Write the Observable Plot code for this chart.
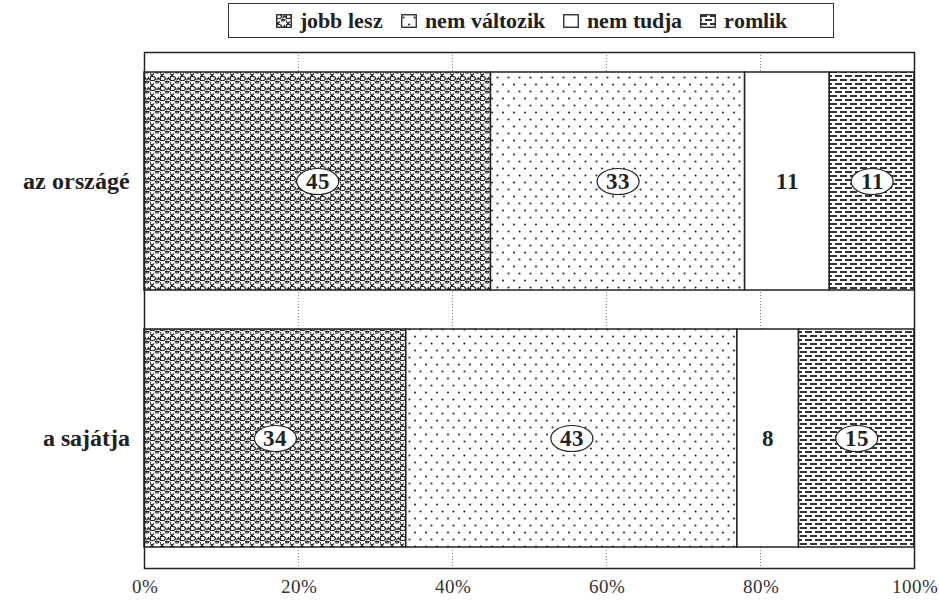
<!DOCTYPE html>
<html><head><meta charset="utf-8">
<script src="https://cdn.jsdelivr.net/npm/d3@7"></script>
<script src="https://cdn.jsdelivr.net/npm/@observablehq/plot@0.6"></script>
<style>
@font-face{font-family:"LSerif";src:local("Liberation Serif"),local("LiberationSerif");font-weight:400;}
@font-face{font-family:"LSerif";src:local("Liberation Serif Bold"),local("LiberationSerif-Bold");font-weight:700;}
</style>
</head><body style="margin:0;background:#fff;font-family:LSerif">
<svg width="0" height="0" style="position:absolute">
<defs>
<pattern id="p-jobb" width="10" height="10" patternUnits="userSpaceOnUse">
<rect width="10" height="10" fill="#fff"/>
<path d="M0.5,0.5h3.5l1.5,1.5v1l-1.5,1.5h-3.5z M6.5,4.5l2,-3l2,3 M6.5,3h4 M5.5,5.5h3.5l-1,1.5h-2z M0,7.5l2,2l2,-2 M1,9.5h2 M0.5,6v1" fill="none" stroke="#2a2a2a" stroke-width="1.2"/>
</pattern>
<pattern id="p-dots" width="11" height="14" patternUnits="userSpaceOnUse">
<rect width="11" height="14" fill="#fff"/>
<circle cx="2.5" cy="3.5" r="1.1" fill="#333"/>
<circle cx="8" cy="10.5" r="1.1" fill="#333"/>
</pattern>
<pattern id="p-brick" width="10" height="8" patternUnits="userSpaceOnUse">
<rect width="10" height="8" fill="#fff"/>
<rect x="0" y="1" width="7" height="2" fill="#333"/>
<rect x="5" y="5" width="7" height="2" fill="#333"/>
<rect x="-5" y="5" width="7" height="2" fill="#333"/>
</pattern>
</defs></svg>
<div id="legend" style="height:46px;position:relative"><div id="lbox" style="position:absolute;left:228px;top:3px;width:606px;height:35px;border:1.5px solid #333;display:flex;align-items:center;justify-content:center;gap:18px;font-family:LSerif;font-weight:bold;font-size:22px;color:#222;box-sizing:border-box"></div></div>
<div id="chart"></div>
<script>
const FONT = "LSerif";
const categories = ["az országé", "a sajátja"];
const series = ["jobb lesz", "nem változik", "nem tudja", "romlik"];
const jobbLesz = [45, 34];
const nemValtozik = [33, 43];
const nemTudja = [11, 8];
const romlik = [11, 15];
const xTicks = [0, 20, 40, 60, 80, 100];
const fills = ["url(#p-jobb)", "url(#p-dots)", "#fff", "url(#p-brick)"];
const ellipsed = [true, true, false, true];

const seriesValues = [jobbLesz, nemValtozik, nemTudja, romlik];
const data = [];
categories.forEach((c, ci) => series.forEach((s, si) => data.push({
  category: c, series: s, value: seriesValues[si][ci], fill: fills[si], ellipse: ellipsed[si]
})));

const k = 0.5523;
const ellipseSymbol = {draw(ctx) {
  const rx = 21, ry = 13;
  ctx.moveTo(rx, 0);
  ctx.bezierCurveTo(rx, k*ry, k*rx, ry, 0, ry);
  ctx.bezierCurveTo(-k*rx, ry, -rx, k*ry, -rx, 0);
  ctx.bezierCurveTo(-rx, -k*ry, -k*rx, -ry, 0, -ry);
  ctx.bezierCurveTo(k*rx, -ry, rx, -k*ry, rx, 0);
  ctx.closePath();
}};

const stackOpts = {x: "value", y: "category", z: "series", order: series};
const chart = Plot.plot({
  width: 939, height: 557,
  marginTop: 6, marginBottom: 35, marginLeft: 144, marginRight: 25,
  style: {fontFamily: FONT, background: "#fff"},
  x: {domain: [0, 100]},
  y: {domain: categories, paddingInner: 0.151, paddingOuter: 0.0775},
  color: {type: "identity"},
  marks: [
    Plot.gridX(xTicks.slice(1, -1), {stroke: "#888", strokeOpacity: 1, strokeDasharray: "1,2"}),
    Plot.barX(data, Plot.stackX({...stackOpts, fill: "fill", stroke: "#222", strokeWidth: 1.5})),
    Plot.dot(data, Plot.stackX({...stackOpts, symbol: ellipseSymbol, r: 10,
      fill: d => d.ellipse ? "#fff" : "none", stroke: d => d.ellipse ? "#222" : "none", strokeWidth: 1.2})),
    Plot.text(data, Plot.stackX({...stackOpts, text: d => String(d.value), fontSize: 23, fontWeight: "bold", fill: "#222", fontFamily: FONT})),
    Plot.frame({stroke: "#222", strokeWidth: 1.5}),
    Plot.axisX({ticks: xTicks, tickSize: 0, tickPadding: 11, tickFormat: d => d + "%", fontSize: 19, fill: "#333", label: null, fontFamily: FONT}),
    Plot.axisY({tickSize: 0, tickPadding: 15, fontSize: 24, fontWeight: "bold", fill: "#222", label: null, fontFamily: FONT})
  ]
});
document.getElementById("chart").appendChild(chart);

const box = document.getElementById("lbox");
series.forEach((s, i) => {
  const it = document.createElement("div");
  it.style.cssText = "display:flex;align-items:center;gap:8px";
  it.innerHTML = `<svg width="16" height="14" style="display:block"><rect x="0.75" y="0.75" width="14.5" height="12.5" fill="${fills[i]}" stroke="#222" stroke-width="1.3"/></svg>`;
  const sp = document.createElement("span");
  sp.textContent = s;
  sp.style.fontFamily = FONT;
  it.appendChild(sp);
  box.appendChild(it);
});
</script>
</body></html>
